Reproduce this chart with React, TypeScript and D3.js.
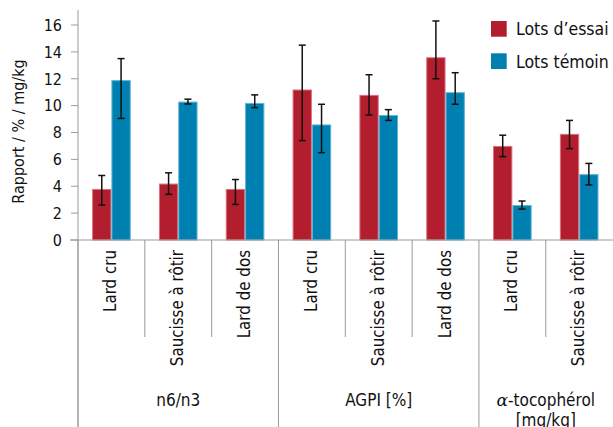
import React from "react";
import * as d3 from "d3";

const categories = ["Lard cru", "Saucisse à rôtir", "Lard de dos", "Lard cru", "Saucisse à rôtir", "Lard de dos", "Lard cru", "Saucisse à rôtir"];
const groups = [
  { label: ["n6/n3"], start: 0, end: 3 },
  { label: ["AGPI [%]"], start: 3, end: 6 },
  { label: ["-tocophérol", "[mg/kg]"], start: 6, end: 8, alpha: true },
];
const seriesNames = ["Lots d’essai", "Lots témoin"];
const seriesColors = ["#b21e2d", "#0080b1"];
const seriesStroke = ["#d9727e", "#5fb4d6"];
const essaiValues = [3.8, 4.2, 3.8, 11.2, 10.8, 13.6, 7.0, 7.9];
const essaiLow = [2.6, 3.4, 2.65, 7.4, 9.3, 12.0, 6.2, 6.8];
const essaiHigh = [4.8, 5.0, 4.5, 14.5, 12.3, 16.3, 7.8, 8.9];
const temoinValues = [11.9, 10.3, 10.2, 8.6, 9.3, 11.0, 2.6, 4.9];
const temoinLow = [9.05, 10.12, 9.85, 6.5, 8.9, 10.1, 2.3, 4.1];
const temoinHigh = [13.5, 10.48, 10.8, 10.1, 9.7, 12.45, 2.9, 5.7];
const yTicks = [0, 2, 4, 6, 8, 10, 12, 14, 16];
const yLabel = "Rapport / % / mg/kg";

const FONT = "'DejaVu Sans Condensed', 'DejaVu Sans', sans-serif";

export default function App() {
  const W = 613, H = 427;
  const x0 = 78, x1 = 612.6, yBase = 240;
  const x = d3.scaleBand<number>().domain(d3.range(categories.length)).range([x0, x1]).padding(0);
  const sub = d3.scaleBand<number>().domain([0, 1]).range([0, x.bandwidth()]).paddingInner(0).paddingOuter(0.73);
  const y = d3.scaleLinear().domain([0, 16]).range([yBase, 25]);
  const vals = [essaiValues, temoinValues];
  const lows = [essaiLow, temoinLow];
  const highs = [essaiHigh, temoinHigh];
  const bw = x.bandwidth();

  return (
    <svg width={W} height={H} style={{ position: "absolute", left: 0, top: 0, background: "#fff" }} fontFamily={FONT}>
      {/* bars */}
      {vals.map((arr, s) =>
        arr.map((v, i) => (
          <rect key={`b${s}-${i}`} x={(x(i) as number) + (sub(s) as number) + 0.5} y={y(v) + 0.5}
            width={sub.bandwidth() - 1} height={yBase - y(v) - 0.5}
            fill={seriesColors[s]} stroke={seriesStroke[s]} strokeWidth={1} />
        ))
      )}
      {/* error bars */}
      {vals.map((arr, s) =>
        arr.map((v, i) => {
          const cx = (x(i) as number) + (sub(s) as number) + sub.bandwidth() / 2;
          return (
            <g key={`e${s}-${i}`} stroke="#111" strokeWidth={1.5}>
              <line x1={cx} x2={cx} y1={y(lows[s][i])} y2={y(highs[s][i])} />
              <line x1={cx - 3.5} x2={cx + 3.5} y1={y(lows[s][i])} y2={y(lows[s][i])} />
              <line x1={cx - 3.5} x2={cx + 3.5} y1={y(highs[s][i])} y2={y(highs[s][i])} />
            </g>
          );
        })
      )}
      {/* y axis */}
      <line x1={x0} x2={x0} y1={10} y2={H} stroke="#9a9a9a" strokeWidth={1} />
      {yTicks.map((t) => (
        <g key={`t${t}`}>
          <line x1={x0 - 7} x2={x0} y1={y(t)} y2={y(t)} stroke="#9a9a9a" strokeWidth={1} />
          <text x={x0 - 16} y={y(t)} dy="0.36em" textAnchor="end" fontSize={16} fill="#111">{t}</text>
        </g>
      ))}
      <text transform={`translate(24,${(y(16) + yBase) / 2 - 1}) rotate(-90)`} textAnchor="middle" fontSize={16} fill="#111">{yLabel}</text>
      {/* x axis */}
      <line x1={70} x2={W} y1={yBase} y2={yBase} stroke="#9a9a9a" strokeWidth={1} />
      {categories.map((c, i) => {
        const isGroupStart = groups.some((g) => g.start === i);
        return (
          <line key={`s${i}`} x1={x(i) as number} x2={x(i) as number} y1={yBase} y2={isGroupStart ? H : 337}
            stroke="#9a9a9a" strokeWidth={1} />
        );
      })}
      {categories.map((c, i) => (
        <text key={`c${i}`} transform={`translate(${(x(i) as number) + bw / 2 - 1},250) rotate(-90)`} dy="0.36em"
          textAnchor="end" fontSize={16.8} fill="#111">{c}</text>
      ))}
      {groups.map((g, gi) => {
        const cx = ((x(g.start) as number) + (g.end < categories.length ? (x(g.end) as number) : x1)) / 2;
        return (
          <text key={`g${gi}`} x={cx} y={406} textAnchor="middle" fontSize={17} fill="#111">
            {g.alpha ? (
              <>
                <tspan fontFamily="'DejaVu Serif', serif" fontStyle="italic">α</tspan>
                <tspan>{g.label[0]}</tspan>
                <tspan x={cx} dy={20}>{g.label[1]}</tspan>
              </>
            ) : (
              g.label[0]
            )}
          </text>
        );
      })}
      {/* legend */}
      {seriesNames.map((n, s) => (
        <g key={`l${s}`} transform={`translate(491,${21 + s * 32.3})`}>
          <rect width={15.7} height={15.7} fill={seriesColors[s]} />
          <text x={25} y={8} dy="0.36em" fontSize={17.5} fill="#111">{n}</text>
        </g>
      ))}
    </svg>
  );
}
